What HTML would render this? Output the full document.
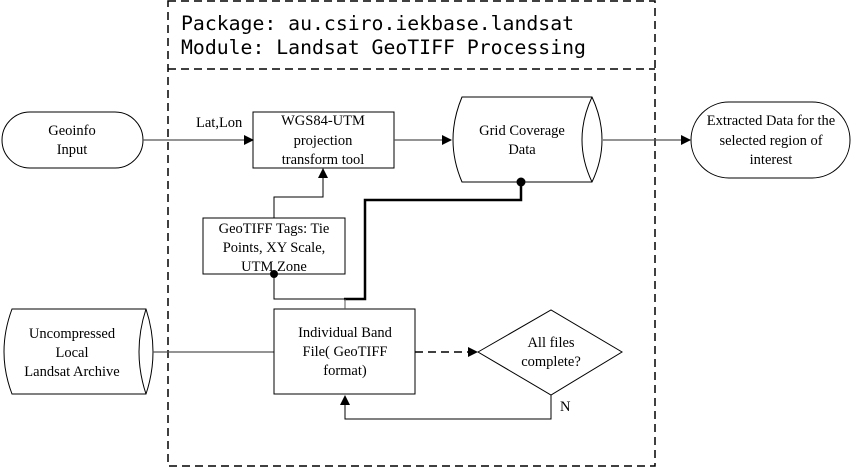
<!DOCTYPE html>
<html><head><style>
html,body{margin:0;padding:0;background:#fff;}
svg{display:block;}
text{font-family:"Liberation Serif",serif;font-size:14.5px;fill:#000;}
.m{font-family:"DejaVu Sans Mono","Liberation Mono",monospace;font-size:19.8px;}
</style></head><body>
<svg width="858" height="469" viewBox="0 0 858 469" xmlns="http://www.w3.org/2000/svg">
<defs>
<marker id="a" markerWidth="10" markerHeight="10" refX="9" refY="5" orient="auto" markerUnits="userSpaceOnUse"><path d="M0,0 L10,5 L0,10 z" fill="#000"/></marker>
</defs>
<g fill="none" stroke="#000" stroke-width="1.5" stroke-dasharray="8,5">
<rect x="168" y="1" width="487" height="465"/>
<line x1="168" y1="69" x2="655" y2="69"/>
</g>
<text class="m" x="181" y="30">Package: au.csiro.iekbase.landsat</text>
<text class="m" x="181" y="54">Module: Landsat GeoTIFF Processing</text>

<g fill="none" stroke="#000" stroke-width="1">
<rect x="2" y="112" width="141" height="56" rx="28"/>
<line x1="143" y1="140" x2="253" y2="140" stroke="#555" stroke-width="1.3" marker-end="url(#a)"/>
<rect x="253" y="112" width="141" height="56"/>
<line x1="394" y1="140" x2="451" y2="140" stroke="#555" stroke-width="1.3" marker-end="url(#a)"/>
<path d="M462,97 L592,97 Q612,140 592,182 L462,182 Q444,140 462,97 Z"/>
<path d="M592,97 Q572,140 592,182"/>
<line x1="603" y1="140" x2="690" y2="140" stroke="#555" stroke-width="1.3" marker-end="url(#a)"/>
<rect x="691" y="102" width="159" height="76" rx="38"/>
<rect x="203" y="218" width="142" height="56"/>
<polyline points="274,218 274,197 323,197 323,169" marker-end="url(#a)"/>
<polyline points="274,274 274,299 345,299"/>
<polyline points="344,299 365,299 365,200 521,200 521,182" stroke-width="2.5"/>
<path d="M12,309 L146,309 Q160,352 146,394 L12,394 Q-4,352 12,309 Z"/>
<path d="M146,309 Q132,352 146,394"/>
<line x1="153" y1="352" x2="274" y2="352" stroke="#555" stroke-width="1.3"/>
<rect x="274" y="309" width="141" height="85"/>
<line x1="345" y1="309" x2="345" y2="299" stroke="#555"/>
<line x1="415" y1="352" x2="477" y2="352" stroke-width="1.5" stroke-dasharray="8,5" marker-end="url(#a)"/>
<path d="M478,352 L551,310 L622,352 L551,395 Z"/>
<polyline points="551,395 551,419 345,419 345,396" marker-end="url(#a)"/>
</g>
<circle cx="274" cy="274" r="4" fill="#000"/>
<circle cx="521" cy="182" r="4.5" fill="#000"/>

<text x="196" y="127">Lat,Lon</text>
<g text-anchor="middle">
<text x="72" y="135">Geoinfo</text><text x="72" y="154">Input</text>
<text x="323" y="125">WGS84-UTM</text><text x="323" y="145">projection</text><text x="323" y="164">transform tool</text>
<text x="522" y="135">Grid Coverage</text><text x="522" y="154">Data</text>
<text x="771" y="125">Extracted Data for the</text><text x="771" y="145">selected region of</text><text x="771" y="164">interest</text>
<text x="274" y="233">GeoTIFF Tags: Tie</text><text x="274" y="252">Points, XY Scale,</text><text x="274" y="271">UTM Zone</text>
<text x="72" y="338">Uncompressed</text><text x="72" y="357">Local</text><text x="72" y="376">Landsat Archive</text>
<text x="345" y="337">Individual Band</text><text x="345" y="356">File( GeoTIFF</text><text x="345" y="375">format)</text>
<text x="551" y="347">All files</text><text x="551" y="366">complete?</text>
</g>
<text x="560" y="411">N</text>
</svg>
</body></html>
